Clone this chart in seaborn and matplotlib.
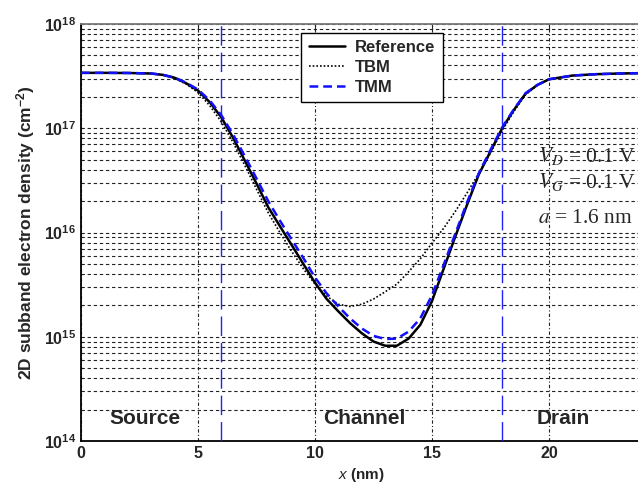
import numpy as np
import pandas as pd
import matplotlib
matplotlib.use("Agg")
import matplotlib.pyplot as plt
import seaborn as sns
from matplotlib.ticker import LogLocator, FixedLocator, FixedFormatter, NullFormatter

# ---- data ----
x_nm = [0, 1, 2, 3, 3.5, 4, 4.5, 5, 5.5, 6, 6.5, 7, 7.5, 8, 8.5, 9, 9.5, 10, 10.5, 11,
        11.5, 12, 12.5, 13, 13.5, 14, 14.5, 15, 15.5, 16, 16.5, 17, 17.5, 18, 18.5, 19,
        19.5, 20, 21, 22, 23, 24]
reference = [3.4e17, 3.4e17, 3.39e17, 3.35e17, 3.25e17, 3.05e17, 2.7e17, 2.3e17, 1.78e17,
             1.27e17, 8.1e16, 4.9e16, 2.95e16, 1.75e16, 1.15e16, 7.6e15, 5.0e15, 3.3e15, 2.3e15,
             1.75e15, 1.35e15, 1.08e15, 9.0e14, 8.2e14, 8.2e14, 9.6e14, 1.3e15, 2.2e15, 4.5e15,
             9.2e15, 1.85e16, 3.6e16, 6.0e16, 1.0e17, 1.5e17, 2.15e17, 2.6e17, 2.95e17, 3.2e17,
             3.3e17, 3.35e17, 3.38e17]
tbm = [3.4e17, 3.4e17, 3.39e17, 3.35e17, 3.25e17, 3.02e17, 2.65e17, 2.2e17, 1.65e17,
       1.15e17, 7.3e16, 4.4e16, 2.6e16, 1.55e16, 1.0e16, 6.6e15, 4.5e15, 3.2e15, 2.45e15,
       2.05e15, 1.95e15, 2.05e15, 2.3e15, 2.7e15, 3.2e15, 4.2e15, 5.6e15, 7.9e15, 1.1e16,
       1.6e16, 2.4e16, 3.7e16, 5.8e16, 0.95e17, 1.45e17, 2.1e17, 2.58e17, 2.95e17, 3.2e17,
       3.3e17, 3.35e17, 3.38e17]
tmm = [3.4e17, 3.4e17, 3.39e17, 3.35e17, 3.25e17, 3.06e17, 2.73e17, 2.35e17, 1.85e17,
       1.33e17, 8.7e16, 5.4e16, 3.3e16, 2.0e16, 1.3e16, 8.6e15, 5.7e15, 3.7e15, 2.6e15,
       1.95e15, 1.5e15, 1.2e15, 1.02e15, 9.5e14, 9.6e14, 1.12e15, 1.5e15, 2.5e15, 4.9e15,
       9.8e15, 1.95e16, 3.7e16, 6.2e16, 1.02e17, 1.52e17, 2.17e17, 2.6e17, 2.95e17, 3.2e17,
       3.3e17, 3.35e17, 3.38e17]
series_names = ["Reference", "TBM", "TMM"]
region_labels = ["Source", "Channel", "Drain"]
region_x = [2.75, 12.1, 20.6]
boundaries = [6, 18]
x_ticks = [0, 5, 10, 15, 20]
y_ticks = [1e14, 1e15, 1e16, 1e17, 1e18]
y_tick_labels = [r"$\mathbf{10^{14}}$", r"$\mathbf{10^{15}}$", r"$\mathbf{10^{16}}$",
                 r"$\mathbf{10^{17}}$", r"$\mathbf{10^{18}}$"]
annotations = [r"$V_D$ = 0.1 V", r"$V_G$ = 0.1 V", r"$a$ = 1.6 nm"]
annotation_y = [4.75e16, 2.67e16, 1.23e16]

sns.set_style("white")
plt.rcParams["font.family"] = ["Liberation Sans", "DejaVu Sans"]
plt.rcParams["mathtext.fontset"] = "custom"
plt.rcParams["mathtext.rm"] = "Liberation Sans"
plt.rcParams["mathtext.bf"] = "Liberation Sans:bold"
plt.rcParams["mathtext.it"] = "Liberation Sans:italic"

df = pd.DataFrame({"x": x_nm * 3,
                   "n": reference + tbm + tmm,
                   "model": sum([[s] * len(x_nm) for s in series_names], [])})

fig = plt.figure(figsize=(6.38, 4.90), dpi=100)
ax = fig.add_axes([81 / 638, 49 / 490, 561.6 / 638, 417 / 490])

styles = {"Reference": dict(color="black", lw=1.8, ls="-"),
          "TBM": dict(color="black", lw=1.2, ls=(0, (1, 1.2))),
          "TMM": dict(color="#1010ff", lw=1.8, ls=(0, (3.5, 2)))}
for name in series_names:
    sub = df[df["model"] == name]
    sns.lineplot(data=sub, x="x", y="n", ax=ax, label=name, estimator=None,
                 sort=False, zorder=4, **styles[name])

ax.set_yscale("log")
ax.set_xlim(0, 24)
ax.set_ylim(1e14, 1e18)

# grid
ax.yaxis.set_major_locator(FixedLocator(y_ticks))
ax.yaxis.set_major_formatter(FixedFormatter(y_tick_labels))
ax.yaxis.set_minor_locator(LogLocator(base=10, subs=np.arange(2, 10)))
ax.yaxis.set_minor_formatter(NullFormatter())
ax.set_xticks(x_ticks)
ax.set_xticklabels([str(t) for t in x_ticks])
ax.grid(True, axis="y", which="both", color="#222222", lw=0.8, ls=(0, (3, 2.5)))
ax.grid(True, axis="x", which="major", color="#222222", lw=0.8, ls=(0, (3, 2, 1, 2)))
ax.tick_params(axis="both", which="both", direction="in", top=True, right=True,
               labelsize=11.5, length=4)
ax.tick_params(axis="y", which="minor", length=2)
for lab in ax.get_xticklabels():
    lab.set_fontweight("bold")

for b in boundaries:
    ax.axvline(b, color="#2020ff", lw=1.0, ls=(0, (14, 5)), zorder=3)

for lab, xr in zip(region_labels, region_x):
    ax.text(xr, 1.65e14, lab, ha="center", va="center", fontsize=15,
            fontweight="bold", zorder=5)

for t, yv in zip(annotations, annotation_y):
    ax.text(19.53, yv, t, fontsize=15.5, va="baseline", ha="left",
            family=["Liberation Serif", "DejaVu Serif"], math_fontfamily="stix",
            zorder=5)

ax.set_xlabel(r"$\mathbf{\mathit{x}}$ (nm)", fontsize=11, fontweight="bold", labelpad=4)
ax.set_ylabel(r"2D subband electron density (cm$^{\mathbf{-2}}$)", fontsize=12.5,
              fontweight="bold", labelpad=5)

for s in ax.spines.values():
    s.set_color("black")
    s.set_linewidth(1.3)
ax.spines["top"].set_color("#777777")

leg = ax.legend(loc="upper left", bbox_to_anchor=(0.392, 0.979), frameon=True,
                fancybox=False, edgecolor="black", framealpha=1, borderaxespad=0,
                prop={"weight": "bold", "size": 12}, handlelength=2.2,
                borderpad=0.45, labelspacing=0.28, handletextpad=0.6)
leg.get_frame().set_linewidth(1.0)
leg.set_zorder(10)

fig.savefig("out.png", dpi=100)
